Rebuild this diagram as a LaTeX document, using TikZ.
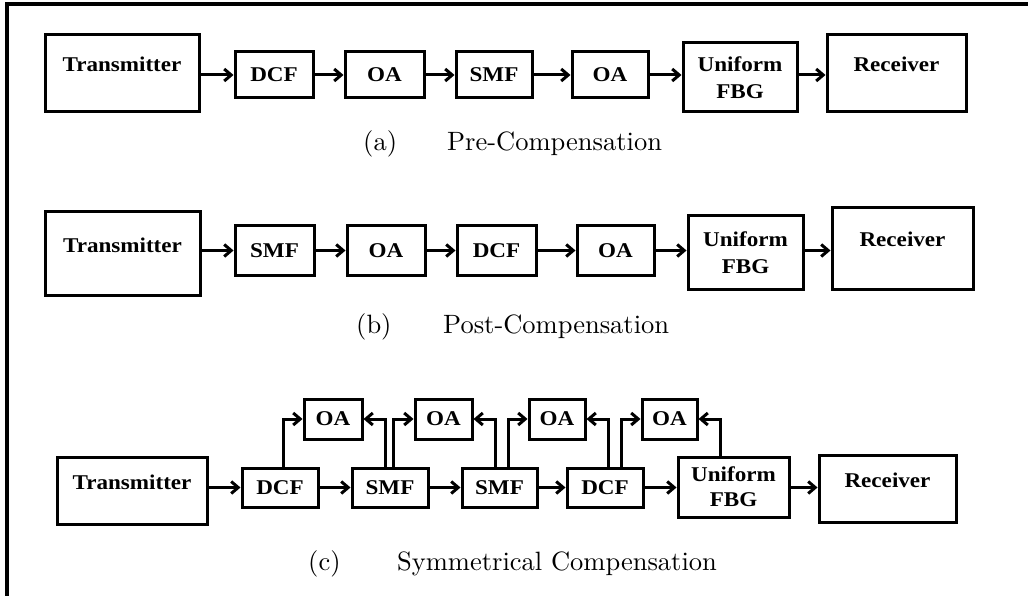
\documentclass[tikz,border=0pt]{standalone}
\usepackage{fontspec}
\usetikzlibrary{arrows.meta}
\newfontfamily\blockfont[FakeStretch=1.1]{Liberation Serif}
\newfontfamily\capfont{lmroman10-regular}[Extension=.otf]
\begin{document}
\begin{tikzpicture}[x=1pt, y=-1pt, >={Straight Barb[length=7pt,width=12pt]},
    blk/.style={draw, line width=3pt, inner sep=0pt, align=center,
        font=\blockfont\bfseries\fontsize{21}{27}\selectfont},
    bigblk/.style={blk, text height=10pt, text depth=13pt},
    conn/.style={->, line width=3pt},
    captext/.style={anchor=base west, inner sep=0pt, font=\capfont\fontsize{26.5}{30}\selectfont}]
\useasboundingbox (0,0) rectangle (1028,596);
\draw[line width=3.5pt] (7,596) -- (7,4) -- (1028,4);

\node[bigblk, minimum width=154pt, minimum height=77pt] (txa) at (122,73.5) {Transmitter};
\node[blk, minimum width=78pt, minimum height=46pt] (dcfa) at (274,75) {DCF};
\node[blk, minimum width=79pt, minimum height=46pt] (oa1a) at (384.5,75) {OA};
\node[blk, minimum width=76pt, minimum height=46pt] (smfa) at (494,75) {SMF};
\node[blk, minimum width=76pt, minimum height=46pt] (oa2a) at (610,75) {OA};
\node[blk, minimum width=114pt, minimum height=69pt] (fbga) at (740,77.5) {Uniform\\FBG};
\node[bigblk, minimum width=139pt, minimum height=77pt] (rxa) at (896.5,73.5) {Receiver};
\draw[conn] (txa.east |- dcfa.west) -- (dcfa.west);
\draw[conn] (dcfa.east) -- (oa1a.west);
\draw[conn] (oa1a.east) -- (smfa.west);
\draw[conn] (smfa.east) -- (oa2a.west);
\draw[conn] (oa2a.east) -- (oa2a.east -| fbga.west);
\draw[conn] (fbga.east |- oa2a.east) -- (rxa.west |- oa2a.east);
\node[captext] (capa) at (363,150.5) {\makebox[84pt][l]{(a)}Pre-Compensation};

\node[bigblk, minimum width=155pt, minimum height=83pt] (txb) at (122.5,253.5) {Transmitter};
\node[blk, minimum width=79pt, minimum height=49pt] (smfb) at (274.5,250.5) {SMF};
\node[blk, minimum width=78pt, minimum height=49pt] (oa1b) at (386,250.5) {OA};
\node[blk, minimum width=79pt, minimum height=49pt] (dcfb) at (496.5,250.5) {DCF};
\node[blk, minimum width=77pt, minimum height=49pt] (oa2b) at (615.5,250.5) {OA};
\node[blk, minimum width=115pt, minimum height=73pt] (fbgb) at (745.5,252.5) {Uniform\\FBG};
\node[bigblk, minimum width=141pt, minimum height=81pt] (rxb) at (902.5,248.5) {Receiver};
\draw[conn] (txb.east |- smfb.west) -- (smfb.west);
\draw[conn] (smfb.east) -- (oa1b.west);
\draw[conn] (oa1b.east) -- (dcfb.west);
\draw[conn] (dcfb.east) -- (oa2b.west);
\draw[conn] (oa2b.east) -- (oa2b.east -| fbgb.west);
\draw[conn] (fbgb.east |- oa2b.east) -- (rxb.west |- oa2b.east);
\node[captext] (capb) at (356,333.5) {\makebox[87pt][l]{(b)}Post-Compensation};

\node[bigblk, minimum width=150pt, minimum height=67pt] (txc) at (132,490.5) {Transmitter};
\node[blk, minimum width=76pt, minimum height=39pt] (dcf1c) at (280,487.5) {DCF};
\node[blk, minimum width=76pt, minimum height=39pt] (smf1c) at (390,487.5) {SMF};
\node[blk, minimum width=75pt, minimum height=39pt] (smf2c) at (499.5,487.5) {SMF};
\node[blk, minimum width=76pt, minimum height=39pt] (dcf2c) at (605,487.5) {DCF};
\node[blk, minimum width=111pt, minimum height=60pt, font=\blockfont\bfseries\fontsize{21}{25}\selectfont] (fbgc) at (733.5,487) {Uniform\\FBG};
\node[bigblk, minimum width=137pt, minimum height=67pt] (rxc) at (887.5,488.5) {Receiver};
\node[blk, minimum width=58pt, minimum height=40pt] (oa1c) at (333,419) {OA};
\node[blk, minimum width=57pt, minimum height=40pt] (oa2c) at (443.5,419) {OA};
\node[blk, minimum width=56pt, minimum height=40pt] (oa3c) at (557,419) {OA};
\node[blk, minimum width=55pt, minimum height=40pt] (oa4c) at (669.5,419) {OA};
\draw[conn] (txc.east |- dcf1c.west) -- (dcf1c.west);
\draw[conn] (dcf1c.east) -- (smf1c.west);
\draw[conn] (smf1c.east) -- (smf2c.west);
\draw[conn] (smf2c.east) -- (dcf2c.west);
\draw[conn] (dcf2c.east) -- (dcf2c.east -| fbgc.west);
\draw[conn] (fbgc.east |- dcf2c.east) -- (rxc.west |- dcf2c.east);
\draw[conn] ([xshift=3pt]dcf1c.north) |- (oa1c.west);
\draw[conn] ([xshift=-5pt]smf1c.north) |- (oa1c.east);
\draw[conn] ([xshift=3pt]smf1c.north) |- (oa2c.west);
\draw[conn] ([xshift=-4.5pt]smf2c.north) |- (oa2c.east);
\draw[conn] ([xshift=8.5pt]smf2c.north) |- (oa3c.west);
\draw[conn] ([xshift=3pt]dcf2c.north) |- (oa3c.east);
\draw[conn] ([xshift=16pt]dcf2c.north) |- (oa4c.west);
\draw[conn] ([xshift=-13.5pt]fbgc.north) |- (oa4c.east);
\node[captext] (capc) at (308,570.5) {\makebox[89pt][l]{(c)}Symmetrical Compensation};
\end{tikzpicture}
\end{document}
